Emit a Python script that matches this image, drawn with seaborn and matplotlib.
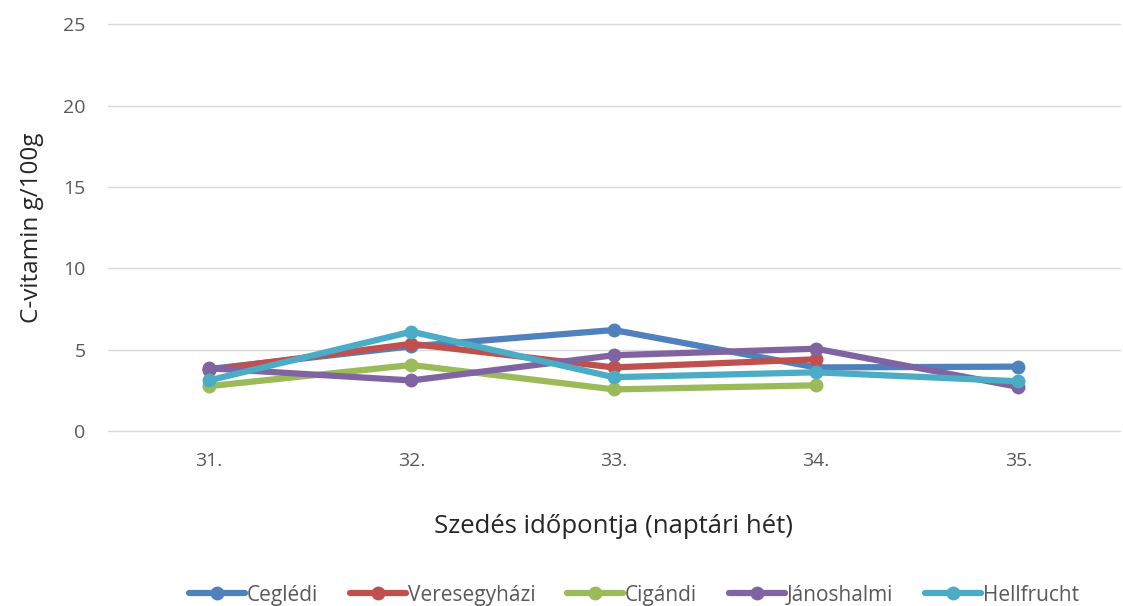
import matplotlib
matplotlib.use("Agg")
import matplotlib.pyplot as plt
import pandas as pd
import seaborn as sns

weeks = ["31.", "32.", "33.", "34.", "35."]
series_names = ["Ceglédi", "Veresegyházi", "Cigándi", "Jánoshalmi", "Hellfrucht"]
cegledi = [3.8, 5.2, 6.2, 3.9, 3.95]
veresegyhazi = [3.75, 5.35, 3.9, 4.4, None]
cigandi = [2.75, 4.05, 2.55, 2.8, None]
janoshalmi = [3.85, 3.1, 4.65, 5.05, 2.7]
hellfrucht = [3.1, 6.1, 3.3, 3.6, 3.05]
colors = ["#4F81BD", "#C0504D", "#9BBB59", "#8064A2", "#4BACC6"]

records = []
for name, vals in zip(series_names, [cegledi, veresegyhazi, cigandi, janoshalmi, hellfrucht]):
    for i, v in enumerate(vals):
        if v is not None:
            records.append({"Fajta": name, "Hét": i, "Érték": v})
df = pd.DataFrame(records)

sns.set_style("white")
plt.rcParams["font.family"] = ["Open Sans", "DejaVu Sans"]

fig = plt.figure(figsize=(11.23, 6.06), dpi=100)
ax = fig.add_axes([0.096, 0.289, 0.901, 0.671])

sns.lineplot(data=df, x="Hét", y="Érték", hue="Fajta", hue_order=series_names,
             palette=colors, marker="o", markersize=10, markeredgewidth=0,
             linewidth=4.5, ax=ax, legend=True)

ax.set_xlim(-0.5, 4.5)
ax.set_ylim(0, 25)
ax.set_xticks(range(len(weeks)))
ax.set_xticklabels(weeks)
ax.set_yticks([0, 5, 10, 15, 20, 25])
ax.grid(axis="y", color="#D9D9D9", linewidth=1)
for gl in ax.get_ygridlines():
    gl.set_clip_on(False)
ax.set_axisbelow(True)
for s in ax.spines.values():
    s.set_visible(False)
ax.tick_params(axis="both", length=0, labelsize=14, labelcolor="#595959")
ax.tick_params(axis="x", pad=15)
ax.tick_params(axis="y", pad=16)

ax.set_xlabel("Szedés időpontja (naptári hét)", fontsize=18.5, labelpad=32)
ax.set_ylabel("C-vitamin g/100g", fontsize=17.5, labelpad=14)

handles, labels = ax.get_legend_handles_labels()
ax.legend(handles, labels, loc="center", bbox_to_anchor=(0.52, -0.404), ncol=5,
          frameon=False, fontsize=15, handlelength=2.7, columnspacing=1.5,
          handletextpad=0.1, labelcolor="#595959")

fig.savefig("out.png", dpi=100)
